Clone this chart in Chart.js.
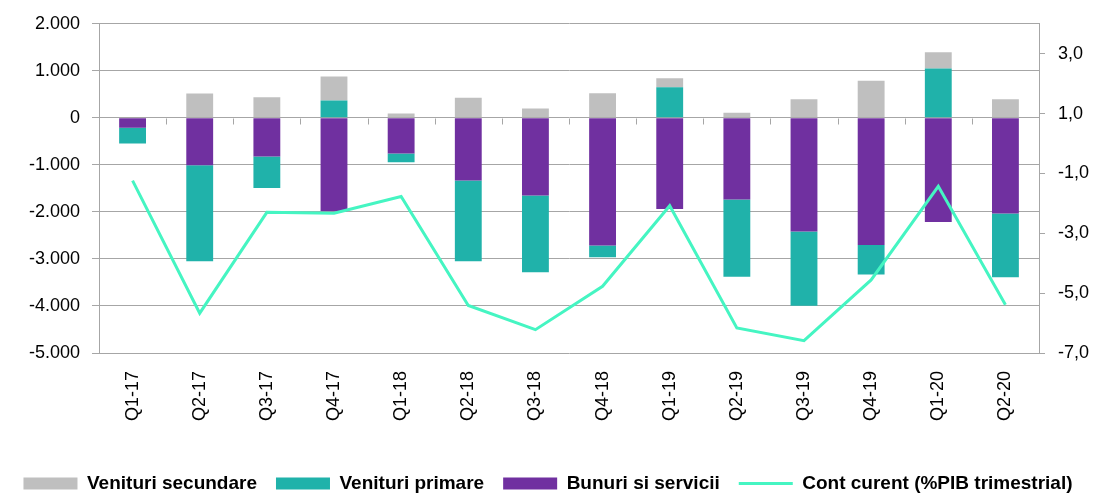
<!DOCTYPE html>
<html lang="ro">
<head>
<meta charset="UTF-8">
<title>Cont curent</title>
<script src="https://cdn.jsdelivr.net/npm/chart.js@4.4.1/dist/chart.umd.js"></script>
<style>
  html, body { margin: 0; padding: 0; background: #fff; }
  #wrap { width: 1096px; height: 494px; }
</style>
</head>
<body>
<div id="wrap"><canvas id="chart"></canvas></div>
<script>
// quarters
const categories = ['Q1-17', 'Q2-17', 'Q3-17', 'Q4-17', 'Q1-18', 'Q2-18', 'Q3-18',
                    'Q4-18', 'Q1-19', 'Q2-19', 'Q3-19', 'Q4-19', 'Q1-20', 'Q2-20'];

// mil. euro (left axis)
const bunuriServicii = [-210, -1007, -823, -1986, -759, -1333, -1652, -2716, -1936, -1738, -2418, -2702, -2213, -2035];
const venituriPrimare = [-336, -2043, -666, 369, -184, -1717, -1632, -248, 652, -1638, -1575, -631, 1050, -1355];
const venituriSecundare = [0, 518, 440, 510, 92, 426, 199, 525, 192, 106, 397, 787, 347, 397];

// % PIB trimestrial (right axis)
const contCurent = [-1.24, -5.67, -2.3, -2.33, -1.77, -5.41, -6.22, -4.77, -2.08, -6.16, -6.59, -4.56, -1.43, -5.39];

const leftTicks = [-5000, -4000, -3000, -2000, -1000, 0, 1000, 2000];
const rightTicks = [-7, -5, -3, -1, 1, 3];

const FONT = '"Liberation Sans", Arial, sans-serif';
const GRID = '#a6a6a6';

function fmtThousands(v) {
  const s = Math.abs(v).toString().replace(/\B(?=(\d{3})+(?!\d))/g, '.');
  return (v < 0 ? '-' : '') + s;
}

// tick marks on the zero line, at category boundaries; legend nudged down
const zeroAxis = {
  id: 'zeroAxis',
  afterLayout(chart) {
    chart.legend.top += 9;
    chart.legend.bottom += 9;
  },
  afterDatasetsDraw(chart) {
    const {ctx, scales: {x, y}} = chart;
    const y0 = Math.round(y.getPixelForValue(0)) + 0.5;
    ctx.save();
    ctx.strokeStyle = GRID;
    ctx.lineWidth = 1;
    ctx.beginPath();
    for (let i = 0; i <= categories.length; i++) {
      const px = Math.round(x.getPixelForValue(i - 0.5)) + 0.5;
      ctx.moveTo(px, y0);
      ctx.lineTo(px, y0 + 6);
    }
    ctx.stroke();
    ctx.restore();
  }
};

const legendOrder = [2, 1, 0, 3];

new Chart(document.getElementById('chart'), {
  type: 'bar',
  data: {
    labels: categories,
    datasets: [
      { label: 'Bunuri si servicii', data: bunuriServicii, backgroundColor: '#7030a0', yAxisID: 'y', order: 1 },
      { label: 'Venituri primare', data: venituriPrimare, backgroundColor: '#20b2aa', yAxisID: 'y', order: 1 },
      { label: 'Venituri secundare', data: venituriSecundare, backgroundColor: '#bfbfbf', yAxisID: 'y', order: 1 },
      { type: 'line', label: 'Cont curent (%PIB trimestrial)', data: contCurent, yAxisID: 'y2',
        borderColor: '#45f5c2', backgroundColor: '#45f5c2', borderWidth: 3,
        pointRadius: 0, tension: 0, order: 0 }
    ]
  },
  options: {
    responsive: true,
    maintainAspectRatio: false,
    animation: false,
    layout: { padding: { top: 16, left: 0, right: 0, bottom: 0 } },
    datasets: { bar: { categoryPercentage: 1, barPercentage: 0.4 } },
    scales: {
      x: {
        stacked: true,
        grid: { display: false },
        border: { display: false },
        ticks: { minRotation: 90, maxRotation: 90, padding: 10, color: '#000',
                 font: { family: FONT, size: 18 } },
        afterFit(scale) { scale.height = 93; }
      },
      y: {
        stacked: true,
        position: 'left',
        min: -5000,
        max: 2000,
        afterBuildTicks(scale) { scale.ticks = leftTicks.map(v => ({ value: v })); },
        afterFit(scale) { scale.width = 99; },
        grid: { color: GRID, lineWidth: 1, tickLength: 7 },
        border: { color: GRID, width: 1 },
        ticks: { padding: 12, color: '#000', font: { family: FONT, size: 18 },
                 callback: v => fmtThousands(v) }
      },
      y2: {
        position: 'right',
        min: -7,
        max: 4,
        afterBuildTicks(scale) { scale.ticks = rightTicks.map(v => ({ value: v })); },
        afterFit(scale) { scale.width = 57; },
        grid: { drawOnChartArea: false, color: GRID, tickLength: 6 },
        border: { color: GRID, width: 1 },
        ticks: { padding: 13, color: '#000', font: { family: FONT, size: 18 },
                 callback: v => v.toFixed(1).replace('.', ',') }
      }
    },
    plugins: {
      tooltip: { enabled: false },
      legend: {
        position: 'bottom',
        labels: {
          usePointStyle: true,
          pointStyleWidth: 54,
          boxHeight: 12,
          padding: 19,
          color: '#000',
          font: { family: FONT, size: 19, weight: 'bold' },
          sort: (a, b) => legendOrder.indexOf(a.datasetIndex) - legendOrder.indexOf(b.datasetIndex),
          generateLabels(chart) {
            const items = Chart.defaults.plugins.legend.labels.generateLabels(chart);
            items.forEach(it => {
              const ds = chart.data.datasets[it.datasetIndex];
              if (ds.type === 'line') {
                it.pointStyle = 'line';
                it.strokeStyle = ds.borderColor;
                it.lineWidth = 3;
              } else {
                it.pointStyle = 'rect';
                it.lineWidth = 0;
              }
            });
            return items;
          }
        }
      }
    }
  },
  plugins: [zeroAxis]
});
</script>
</body>
</html>
